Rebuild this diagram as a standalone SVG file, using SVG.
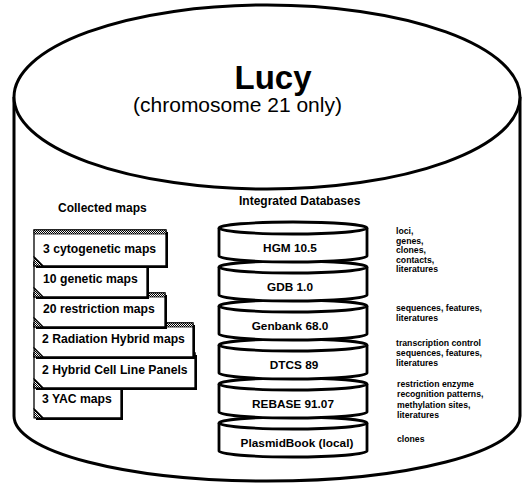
<svg xmlns="http://www.w3.org/2000/svg" width="522" height="488" viewBox="0 0 522 488">
  <defs>
    <!-- 50% dither used for card title bands and folded corners -->
    <pattern id="dither" width="2" height="2" patternUnits="userSpaceOnUse">
      <rect width="2" height="2" fill="#fff"/>
      <rect width="1" height="1" fill="#000"/>
      <rect x="1" y="1" width="1" height="1" fill="#000"/>
    </pattern>
    <style>
      .big { fill: #fff; stroke: #000; stroke-width: 3; }
      .disk { fill: #fff; stroke: #000; stroke-width: 2.8; }
      .card { fill: #fff; stroke: #000; stroke-width: 1.3; }
      .shadow { fill: #000; }
      .band { fill: url(#dither); stroke: #000; stroke-width: 0.8; }
      .ear { fill: url(#dither); stroke: #000; stroke-width: 1.1; }
      text { font-family: "Liberation Sans", Arial, sans-serif; fill: #000; }
      .title { font-size: 33px; font-weight: bold; text-anchor: middle; }
      .sub { font-size: 21px; text-anchor: middle; }
      .head { font-size: 12px; font-weight: bold; }
      .cardtxt { font-size: 12.2px; font-weight: bold; }
      .disktxt { font-size: 11.8px; font-weight: bold; text-anchor: middle; }
      .note { font-size: 8.7px; font-weight: bold; }
    </style>
  </defs>

  <!-- outer database cylinder -->
  <g id="lucy">
    <path class="big" d="M14,97 V416 A253,65 0 0 0 520,416 V97"/>
    <ellipse class="big" cx="267" cy="97" rx="253" ry="92"/>
    <text class="title" x="273" y="89">Lucy</text>
    <text class="sub" x="237.5" y="112">(chromosome 21 only)</text>
  </g>

  <text class="head" x="58" y="212">Collected maps</text>
  <text class="head" x="239" y="205">Integrated Databases</text>

  <!-- stacked map cards, drawn bottom of the stack first -->
  <g id="card-yac">
    <rect class="shadow" x="36" y="386" width="87" height="34"/>
    <path class="card" d="M34,384 H121 V418 H43 L34,409 Z"/>
    <rect class="band" x="34" y="384" width="87" height="4"/>
    <path class="ear" d="M34,409 L43,418 L34,418 Z"/>
    <text class="cardtxt" x="42" y="403">3 YAC maps</text>
  </g>
  <g id="card-hybrid-cell">
    <rect class="shadow" x="36" y="355" width="161" height="35"/>
    <path class="card" d="M34,353 H195 V388 H43 L34,379 Z"/>
    <rect class="band" x="34" y="353" width="161" height="4"/>
    <path class="ear" d="M34,379 L43,388 L34,388 Z"/>
    <text class="cardtxt" x="42" y="374">2 Hybrid Cell Line Panels</text>
  </g>
  <g id="card-radiation">
    <rect class="shadow" x="36" y="325" width="159" height="34"/>
    <path class="card" d="M34,323 H193 V357 H43 L34,348 Z"/>
    <rect class="band" x="34" y="323" width="159" height="4"/>
    <path class="ear" d="M34,348 L43,357 L34,357 Z"/>
    <text class="cardtxt" x="42" y="343">2 Radiation Hybrid maps</text>
  </g>
  <g id="card-restriction">
    <rect class="shadow" x="36" y="295" width="131" height="34"/>
    <path class="card" d="M34,293 H165 V327 H43 L34,318 Z"/>
    <rect class="band" x="34" y="293" width="131" height="4"/>
    <path class="ear" d="M34,318 L43,327 L34,327 Z"/>
    <text class="cardtxt" x="43" y="313">20 restriction maps</text>
  </g>
  <g id="card-genetic">
    <rect class="shadow" x="36" y="264" width="113" height="35"/>
    <path class="card" d="M34,262 H147 V297 H43 L34,288 Z"/>
    <rect class="band" x="34" y="262" width="113" height="4"/>
    <path class="ear" d="M34,288 L43,297 L34,297 Z"/>
    <text class="cardtxt" x="43" y="283">10 genetic maps</text>
  </g>
  <g id="card-cytogenetic">
    <rect class="shadow" x="36" y="232" width="132" height="36"/>
    <path class="card" d="M34,230 H166 V266 H43 L34,257 Z"/>
    <rect class="band" x="34" y="230" width="132" height="4"/>
    <path class="ear" d="M34,257 L43,266 L34,266 Z"/>
    <text class="cardtxt" x="43" y="253">3 cytogenetic maps</text>
  </g>

  <!-- stacked database disks, drawn bottom first -->
  <g id="db-plasmidbook">
    <path class="disk" d="M219,423 V451 A74,6 0 0 0 367,451 V423"/>
    <ellipse class="disk" cx="293" cy="423" rx="74" ry="6"/>
    <text class="disktxt" x="297" y="447">PlasmidBook (local)</text>
  </g>
  <g id="db-rebase">
    <path class="disk" d="M219,384 V412 A74,6 0 0 0 367,412 V384"/>
    <ellipse class="disk" cx="293" cy="384" rx="74" ry="6"/>
    <text class="disktxt" x="293" y="408">REBASE 91.07</text>
  </g>
  <g id="db-dtcs">
    <path class="disk" d="M219,345 V373 A74,6 0 0 0 367,373 V345"/>
    <ellipse class="disk" cx="293" cy="345" rx="74" ry="6"/>
    <text class="disktxt" x="294" y="369">DTCS 89</text>
  </g>
  <g id="db-genbank">
    <path class="disk" d="M219,306 V334 A74,6 0 0 0 367,334 V306"/>
    <ellipse class="disk" cx="293" cy="306" rx="74" ry="6"/>
    <text class="disktxt" x="290" y="330">Genbank 68.0</text>
  </g>
  <g id="db-gdb">
    <path class="disk" d="M219,267 V295 A74,6 0 0 0 367,295 V267"/>
    <ellipse class="disk" cx="293" cy="267" rx="74" ry="6"/>
    <text class="disktxt" x="290" y="291">GDB 1.0</text>
  </g>
  <g id="db-hgm">
    <path class="disk" d="M219,228 V256 A74,6 0 0 0 367,256 V228"/>
    <ellipse class="disk" cx="293" cy="228" rx="74" ry="6"/>
    <text class="disktxt" x="290" y="252">HGM 10.5</text>
  </g>

  <!-- contents of each database -->
  <g id="notes">
    <text class="note">
      <tspan x="396" y="234">loci,</tspan>
      <tspan x="396" y="243.5">genes,</tspan>
      <tspan x="396" y="253">clones,</tspan>
      <tspan x="396" y="262.5">contacts,</tspan>
      <tspan x="396" y="272">literatures</tspan>
    </text>
    <text class="note">
      <tspan x="396" y="311">sequences, features,</tspan>
      <tspan x="396" y="321">literatures</tspan>
    </text>
    <text class="note">
      <tspan x="396" y="346">transcription control</tspan>
      <tspan x="396" y="356">sequences, features,</tspan>
      <tspan x="396" y="366">literatures</tspan>
    </text>
    <text class="note">
      <tspan x="397" y="386.5">restriction enzyme</tspan>
      <tspan x="397" y="397">recognition patterns,</tspan>
      <tspan x="397" y="407.5">methylation sites,</tspan>
      <tspan x="397" y="418">literatures</tspan>
    </text>
    <text class="note" x="397" y="442">clones</text>
  </g>
</svg>
